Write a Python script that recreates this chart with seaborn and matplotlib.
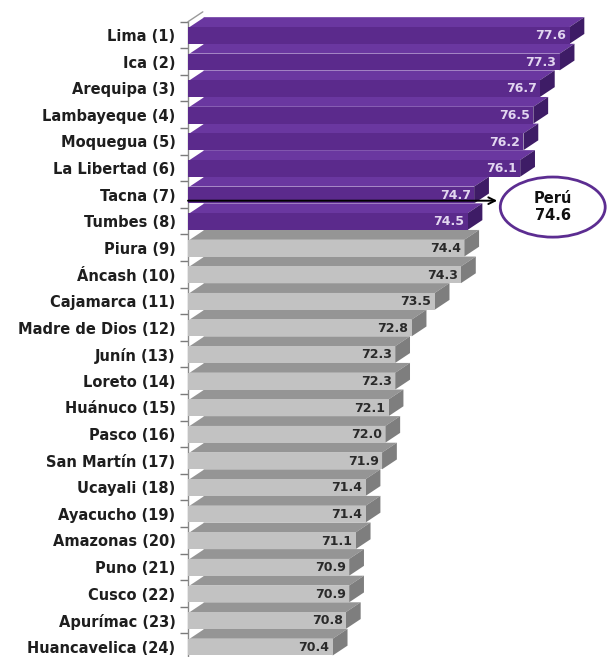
import numpy as np
import pandas as pd
import seaborn as sns
from matplotlib import pyplot as plt
from matplotlib.patches import Polygon, Ellipse

# esperanza de vida por departamento (ranking)
regions = ["Lima (1)", "Ica (2)", "Arequipa (3)", "Lambayeque (4)", "Moquegua (5)",
           "La Libertad (6)", "Tacna (7)", "Tumbes (8)", "Piura (9)", "Áncash (10)",
           "Cajamarca (11)", "Madre de Dios (12)", "Junín (13)", "Loreto (14)",
           "Huánuco (15)", "Pasco (16)", "San Martín (17)", "Ucayali (18)",
           "Ayacucho (19)", "Amazonas (20)", "Puno (21)", "Cusco (22)",
           "Apurímac (23)", "Huancavelica (24)"]
values = [77.6, 77.3, 76.7, 76.5, 76.2, 76.1, 74.7, 74.5, 74.4, 74.3, 73.5, 72.8,
          72.3, 72.3, 72.1, 72.0, 71.9, 71.4, 71.4, 71.1, 70.9, 70.9, 70.8, 70.4]
groups = ["sobre"] * 8 + ["bajo"] * 16
peru_label = "Perú"
peru_value = 74.6

df = pd.DataFrame({"region": regions, "value": values, "grupo": groups})

front = {"sobre": "#5b2a8c", "bajo": "#c2c2c2"}
topc = {"sobre": "#6a37a0", "bajo": "#959595"}
sidec = {"sobre": "#3e1c66", "bajo": "#7e7e7e"}
txtc = {"sobre": "#e2d6f0", "bajo": "#2a2a2a"}

sns.set_theme(style="white")
plt.rcParams["font.family"] = ["DejaVu Sans"]

fig = plt.figure(figsize=(6.08, 6.57), dpi=100)
ax = fig.add_axes([188 / 608, 1 - 660 / 657, 420 / 608, (660 - 21.7) / 657])

sns.barplot(data=df, x="value", y="region", hue="grupo", palette=front,
            dodge=False, width=0.62, legend=False, ax=ax, orient="h",
            saturation=1, order=regions, linewidth=0)

xmin, xmax = 66.0, 78.77
ax.set_xlim(xmin, xmax)
ax.set_ylim(23.5, -0.5)
dx, dy = 0.45, 0.37

for p in list(ax.patches):
    v = p.get_width()
    if v <= 0:
        continue
    c = round(p.get_y() + p.get_height() / 2)
    g = groups[c]
    p.set_y(c - 0.30)
    p.set_height(0.63)
    p.set_zorder(3)
    p.set_edgecolor("none")
    yt, yb = c - 0.30, c + 0.33
    ax.add_patch(Polygon([(xmin, yt), (xmin + dx, yt - dy), (v + dx, yt - dy), (v, yt)],
                         closed=True, facecolor=topc[g], edgecolor="none",
                         zorder=2, clip_on=False))
    ax.add_patch(Polygon([(v, yt), (v + dx, yt - dy), (v + dx, yb - dy), (v, yb)],
                         closed=True, facecolor=sidec[g], edgecolor="none",
                         zorder=2, clip_on=False))
    ax.plot([xmin, xmin + dx], [yt, yt - dy], color="white", lw=1.3,
            zorder=2.5, clip_on=False)
    ax.text(v - 0.1, c + 0.03, f"{v:.1f}", ha="right", va="center",
            fontsize=9, fontweight="bold", color=txtc[g], zorder=4)

# borde superior del "piso" 3D
ax.plot([xmin, xmin + dx], [-0.5, -0.5 - dy], color="#9a9a9a", lw=1, clip_on=False)

# promedio nacional
ax.annotate("", xy=(75.4, 6.23), xytext=(xmin, 6.23),
            arrowprops=dict(arrowstyle="->", color="black", lw=1.4,
                            shrinkA=0, shrinkB=0), zorder=6)
ax.add_patch(Ellipse((77.09, 6.47), 3.19, 2.26, facecolor="white",
                     edgecolor="#5c2d91", lw=2, zorder=6, clip_on=False))
ax.text(77.09, 6.47, f"{peru_label}\n{peru_value}", ha="center", va="center",
        fontsize=10.5, fontweight="bold", linespacing=1.15, color="#111111", zorder=7)

ax.set_xticks([])
ax.set_xlabel("")
ax.set_ylabel("")
ax.set_yticks(np.arange(-0.5, 24, 1), minor=True)
ax.tick_params(axis="y", which="major", length=0, pad=9, labelsize=10.5,
               labelcolor="#1e1e1e")
ax.tick_params(axis="y", which="minor", length=6, width=1, color="#7a7a7a", left=True)
for lab in ax.get_yticklabels():
    lab.set_fontweight("bold")
for s in ["top", "right", "bottom"]:
    ax.spines[s].set_visible(False)
ax.spines["left"].set_color("#8a8a8a")
ax.spines["left"].set_linewidth(1)

fig.savefig("out.png", dpi=100)
